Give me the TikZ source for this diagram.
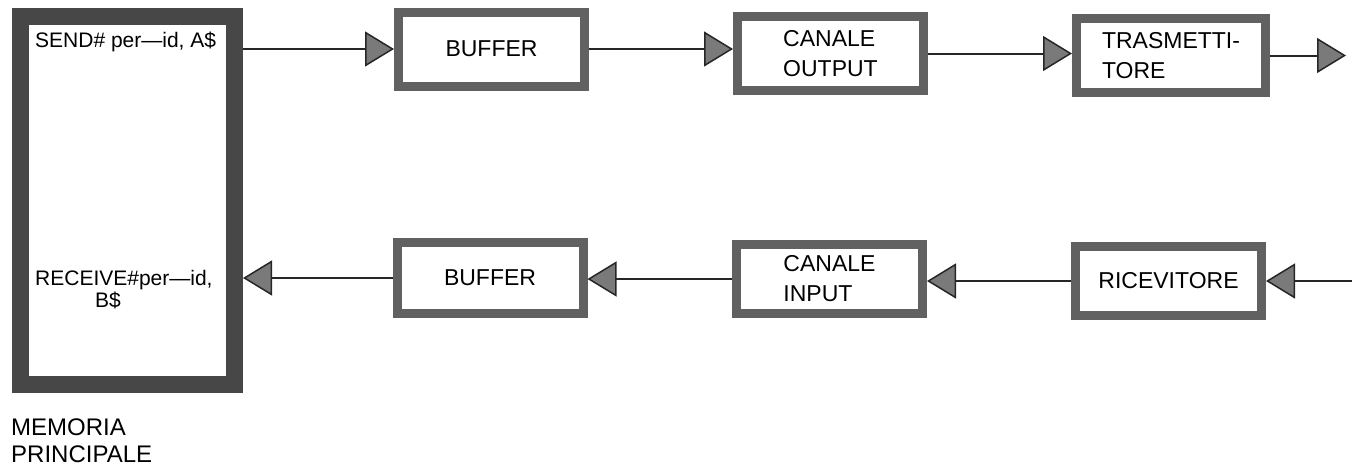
\documentclass[tikz,border=0pt]{standalone}
\usepackage{fontspec}
\setmainfont{Liberation Sans}
\usetikzlibrary{arrows.meta}

\begin{document}
\begin{tikzpicture}[x=1pt,y=-1pt,
  blocco/.style={draw=black!62,line width=9pt,fill=white,minimum width=186pt,minimum height=74pt,inner sep=0pt,outer sep=4.5pt,align=left,font=\fontsize{23}{30}\selectfont},
  freccia/.style={draw=black!85,line width=2pt,-{Triangle[length=29pt,width=35pt,fill=black!52,line width=1.5pt]}},
  scritta/.style={anchor=base west,inner sep=0pt,font=\fontsize{21}{25}\selectfont}]
\path[use as bounding box] (0,0) rectangle (1352,469);
\node[draw=black!72,line width=17pt,fill=white,minimum width=214pt,minimum height=368pt,inner sep=0pt,outer sep=8.5pt] (memoria) at (127.5,200.5) {};
\node[scritta] (invio) at (35,47) {SEND\# per—id, A\$};
\node[scritta] (ricezione) at (35,285) {RECEIVE\#per—id,};
\node[scritta] (ricezioneB) at (95,307) {B\$};
\node[scritta,font=\fontsize{24}{27}\selectfont] (nome1) at (11,435) {MEMORIA};
\node[scritta,font=\fontsize{24}{27}\selectfont] (nome2) at (11,462) {PRINCIPALE};
\node[blocco] (buf1) at (491.5,49) {BUFFER};
\node[blocco] (cout) at (830.5,53.5) {CANALE\\OUTPUT};
\node[blocco,minimum width=189pt] (tras) at (1171,55.5) {TRASMETTI-\\TORE};
\node[blocco,minimum height=71pt] (buf2) at (490,278) {BUFFER};
\node[blocco,minimum height=69pt] (cin) at (829.5,279) {CANALE\\INPUT};
\node[blocco,minimum height=69pt] (ric) at (1168.5,281) {RICEVITORE};
\coordinate (uscita) at (1346,55.5);
\coordinate (ingresso) at (1352,281);
\draw[freccia] (memoria.east |- buf1.west) -- (buf1.west);
\draw[freccia] (buf1.east) -- (buf1.east -| cout.west);
\draw[freccia] (cout.east) -- (cout.east -| tras.west);
\draw[freccia] (tras.east) -- (uscita);
\draw[freccia] (ingresso) -- (ric.east);
\draw[freccia] (ric.west) -- (ric.west -| cin.east);
\draw[freccia] (cin.west) -- (cin.west -| buf2.east);
\draw[freccia] (buf2.west) -- (buf2.west -| memoria.east);
\end{tikzpicture}
\end{document}
